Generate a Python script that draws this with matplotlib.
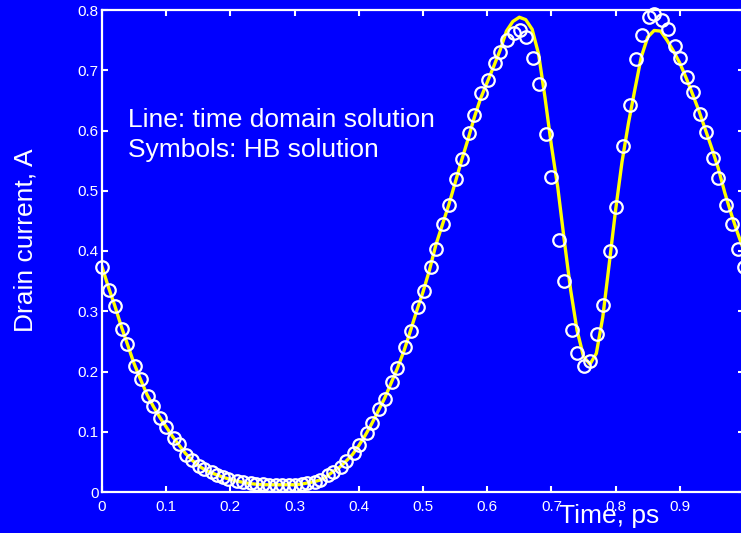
import matplotlib
matplotlib.use("Agg")
import matplotlib.pyplot as plt

plt.rcParams['font.family'] = ['Liberation Sans', 'DejaVu Sans']

# Time-domain solution (line)
line_t = [0.00, 0.01, 0.02, 0.03, 0.04, 0.05, 0.06, 0.07, 0.08, 0.09,
          0.10, 0.11, 0.12, 0.13, 0.14, 0.15, 0.16, 0.17, 0.18, 0.19,
          0.20, 0.21, 0.22, 0.23, 0.24, 0.25, 0.26, 0.27, 0.28, 0.29,
          0.30, 0.31, 0.32, 0.33, 0.34, 0.35, 0.36, 0.37, 0.38, 0.39,
          0.40, 0.41, 0.42, 0.43, 0.44, 0.45, 0.46, 0.47, 0.48, 0.49,
          0.50, 0.51, 0.52, 0.53, 0.54, 0.55, 0.56, 0.57, 0.58, 0.59,
          0.60, 0.61, 0.62, 0.63, 0.64, 0.65, 0.66, 0.67, 0.68, 0.69,
          0.70, 0.71, 0.72, 0.73, 0.74, 0.75, 0.76, 0.77, 0.78, 0.79,
          0.80, 0.81, 0.82, 0.83, 0.84, 0.85, 0.86, 0.87, 0.88, 0.89,
          0.90, 0.91, 0.92, 0.93, 0.94, 0.95, 0.96, 0.97, 0.98, 0.99, 1.00]
line_i = [0.374, 0.340, 0.309, 0.275, 0.244, 0.213, 0.187, 0.162, 0.142, 0.124,
          0.108, 0.092, 0.078, 0.064, 0.053, 0.044, 0.037, 0.032, 0.028, 0.024,
          0.021, 0.018, 0.016, 0.014, 0.013, 0.012, 0.012, 0.012, 0.012, 0.012,
          0.012, 0.013, 0.015, 0.017, 0.020, 0.026, 0.034, 0.041, 0.051, 0.062,
          0.077, 0.094, 0.113, 0.134, 0.155, 0.180, 0.205, 0.233, 0.266, 0.300,
          0.332, 0.368, 0.410, 0.443, 0.476, 0.513, 0.550, 0.585, 0.622, 0.654,
          0.680, 0.706, 0.733, 0.765, 0.781, 0.788, 0.784, 0.768, 0.727, 0.655,
          0.575, 0.505, 0.418, 0.335, 0.268, 0.225, 0.212, 0.230, 0.290, 0.378,
          0.468, 0.548, 0.612, 0.668, 0.722, 0.755, 0.766, 0.765, 0.750, 0.732,
          0.712, 0.687, 0.660, 0.632, 0.601, 0.570, 0.537, 0.497, 0.462, 0.430, 0.400]

# Harmonic balance solution (symbols)
hb_t = [0.0000, 0.0110, 0.0195, 0.0315, 0.0395, 0.0520, 0.0600, 0.0710, 0.0800, 0.0910,
        0.1000, 0.1115, 0.1200, 0.1315, 0.1400, 0.1505, 0.1595, 0.1710, 0.1790, 0.1890,
        0.1970, 0.2100, 0.2200, 0.2315, 0.2400, 0.2515, 0.2600, 0.2715, 0.2800, 0.2915,
        0.3000, 0.3115, 0.3200, 0.3315, 0.3400, 0.3515, 0.3600, 0.3730, 0.3800, 0.3930,
        0.4000, 0.4120, 0.4200, 0.4310, 0.4410, 0.4510, 0.4600, 0.4720, 0.4810, 0.4920,
        0.5010, 0.5120, 0.5200, 0.5315, 0.5400, 0.5520, 0.5610, 0.5720, 0.5800, 0.5910,
        0.6010, 0.6115, 0.6205, 0.6315, 0.6410, 0.6510, 0.6600, 0.6715, 0.6800, 0.6915,
        0.6990, 0.7115, 0.7200, 0.7315, 0.7400, 0.7515, 0.7605, 0.7715, 0.7805, 0.7910,
        0.8010, 0.8115, 0.8220, 0.8310, 0.8405, 0.8515, 0.8600, 0.8725, 0.8810, 0.8920,
        0.9000, 0.9115, 0.9210, 0.9310, 0.9405, 0.9515, 0.9600, 0.9725, 0.9810, 0.9910, 0.9995]
hb_i = [0.374, 0.336, 0.309, 0.270, 0.245, 0.209, 0.188, 0.160, 0.143, 0.122,
        0.108, 0.090, 0.079, 0.062, 0.053, 0.043, 0.038, 0.034, 0.029, 0.025,
        0.021, 0.019, 0.017, 0.015, 0.014, 0.013, 0.012, 0.012, 0.012, 0.012,
        0.012, 0.013, 0.015, 0.017, 0.020, 0.028, 0.034, 0.042, 0.052, 0.064,
        0.078, 0.098, 0.114, 0.137, 0.154, 0.183, 0.205, 0.240, 0.268, 0.307,
        0.334, 0.374, 0.403, 0.445, 0.476, 0.519, 0.552, 0.596, 0.626, 0.663,
        0.684, 0.712, 0.730, 0.750, 0.762, 0.767, 0.756, 0.721, 0.678, 0.594,
        0.523, 0.419, 0.350, 0.269, 0.230, 0.209, 0.218, 0.262, 0.310, 0.400,
        0.473, 0.574, 0.643, 0.718, 0.758, 0.788, 0.793, 0.783, 0.768, 0.741,
        0.721, 0.688, 0.664, 0.627, 0.598, 0.554, 0.521, 0.476, 0.445, 0.404, 0.374]

x_ticks = [0, 0.1, 0.2, 0.3, 0.4, 0.5, 0.6, 0.7, 0.8, 0.9]
x_tick_labels = ["0", "0.1", "0.2", "0.3", "0.4", "0.5", "0.6", "0.7", "0.8", "0.9"]
y_ticks = [0, 0.1, 0.2, 0.3, 0.4, 0.5, 0.6, 0.7, 0.8]
y_tick_labels = ["0", "0.1", "0.2", "0.3", "0.4", "0.5", "0.6", "0.7", "0.8"]

BLUE = "#0000FF"
W, H = 741, 533
fig = plt.figure(figsize=(W / 100, H / 100), dpi=100, facecolor=BLUE)
ax = fig.add_axes([102 / W, (H - 492) / H, 642 / W, 482 / H], facecolor=BLUE)

ax.plot(line_t, line_i, color="#FFFF00", lw=2.4, zorder=2)
ax.plot(hb_t, hb_i, linestyle="none", marker="o", markersize=9,
        markerfacecolor="none", markeredgecolor="white", markeredgewidth=1.6,
        zorder=3, clip_on=False)

ax.set_xlim(0, 1)
ax.set_ylim(0, 0.8)
ax.set_xticks(x_ticks)
ax.set_xticklabels(x_tick_labels)
ax.set_yticks(y_ticks)
ax.set_yticklabels(y_tick_labels)

for s in ax.spines.values():
    s.set_color("white")
    s.set_linewidth(1.6)
ax.tick_params(axis="both", which="both", direction="in", length=4.5, width=1.5,
               colors="white", labelsize=11, top=True, right=True)
ax.tick_params(axis="x", pad=6)
ax.tick_params(axis="y", pad=2.5)

fig.text(128 / W, 1 - 126.7 / H, "Line: time domain solution", color="white",
         fontsize=19, ha="left", va="baseline")
fig.text(128 / W, 1 - 157.5 / H, "Symbols: HB solution", color="white",
         fontsize=19, ha="left", va="baseline")
fig.text(609 / W, 1 - 523.5 / H, "Time, ps", color="white",
         fontsize=19, ha="center", va="baseline")
fig.text(33 / W, 1 - 240 / H, "Drain current, A", color="white",
         fontsize=19, ha="center", va="baseline", rotation=90,
         rotation_mode="anchor")

fig.savefig("out.png", dpi=100, facecolor=BLUE)
